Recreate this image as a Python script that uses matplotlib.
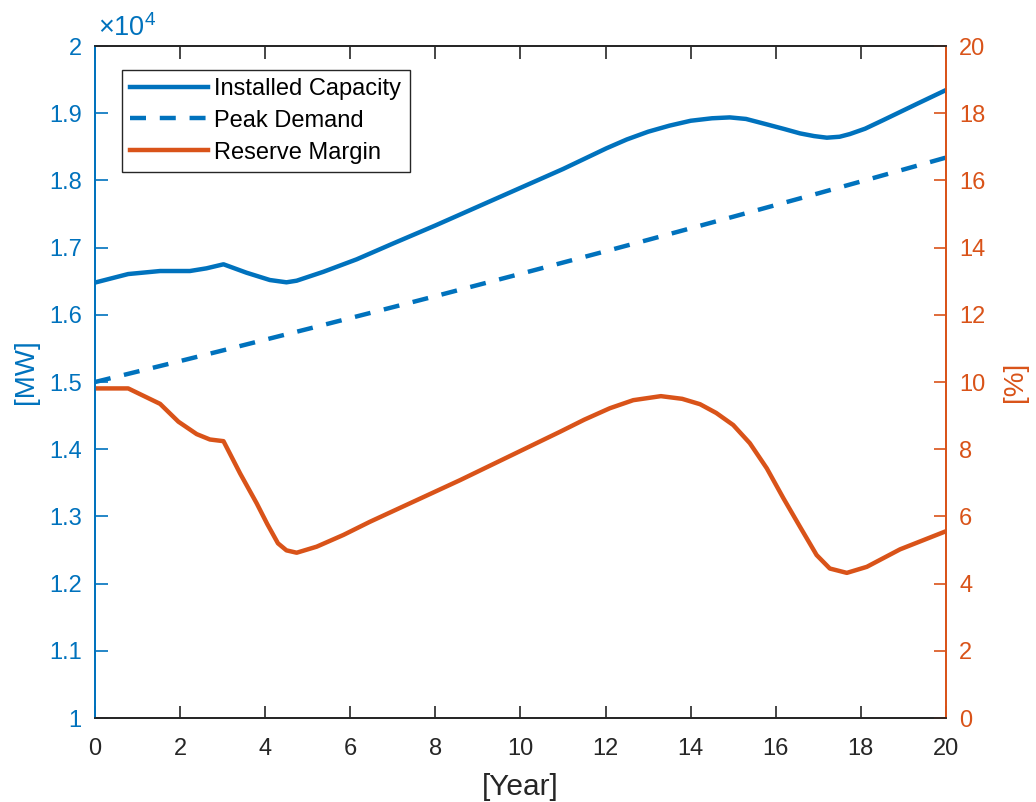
import numpy as np
import matplotlib.pyplot as plt
from matplotlib.ticker import FuncFormatter, MultipleLocator

plt.rcParams['font.family'] = ['Liberation Sans', 'DejaVu Sans']
plt.rcParams['mathtext.fontset'] = 'custom'
plt.rcParams['mathtext.rm'] = 'Liberation Sans'

BLUE = '#0072BD'
ORANGE = '#D95319'
DARK = '#262626'

# installed capacity [MW]
cap_year = [0.0, 0.78, 1.53, 2.23, 2.62, 3.02, 3.56, 4.11, 4.50, 4.74, 5.37, 6.15,
            7.0, 8.0, 9.0, 10.0, 11.0, 12.02, 12.5, 13.0, 13.5, 14.0, 14.5,
            14.92, 15.3, 15.79, 16.2, 16.57, 16.9, 17.2, 17.5, 17.74, 18.1,
            18.53, 19.31, 20.0]
cap_mw = [16480, 16607, 16652, 16652, 16692, 16752, 16627, 16518, 16484, 16508,
          16641, 16826, 17060, 17330, 17610, 17890, 18170, 18478, 18610, 18725,
          18815, 18888, 18925, 18938, 18915, 18834, 18765, 18700, 18660, 18636,
          18650, 18690, 18770, 18899, 19137, 19345]

# peak demand [MW]
dem_year = list(range(0, 21))
dem_mw = [15000, 15156, 15312, 15470, 15630, 15790, 15952, 16114, 16278, 16444,
          16610, 16778, 16946, 17116, 17288, 17460, 17634, 17808, 17984, 18162,
          18340]

# reserve margin [%]
res_year = [0.0, 0.78, 1.53, 1.96, 2.39, 2.70, 3.02, 3.41, 3.80, 4.05, 4.3, 4.5,
            4.74, 5.21, 5.84, 6.46, 8.58, 10.93, 11.5, 12.1, 12.65, 13.3, 13.8,
            14.22, 14.6, 15.0, 15.39, 15.79, 16.18, 16.57, 16.96, 17.27, 17.67,
            18.14, 18.92, 20.0]
res_pct = [9.81, 9.81, 9.35, 8.82, 8.45, 8.29, 8.24, 7.28, 6.39, 5.77, 5.20, 4.99,
           4.92, 5.10, 5.45, 5.84, 7.08, 8.52, 8.88, 9.22, 9.46, 9.58, 9.50,
           9.34, 9.08, 8.72, 8.18, 7.43, 6.54, 5.69, 4.85, 4.45, 4.32, 4.50, 5.02,
           5.56]

fig = plt.figure(figsize=(10.36, 8.02), dpi=100)
ax = fig.add_axes([0.0917, 0.1047, 0.8214, 0.8379])
ax2 = ax.twinx()

lw = 3.2
l1, = ax.plot(cap_year, cap_mw, color=BLUE, lw=lw, solid_joinstyle='round',
              label='Installed Capacity')
l2, = ax.plot(dem_year, dem_mw, color=BLUE, lw=lw, ls=(0, (3.6, 3.1)),
              label='Peak Demand')
l3, = ax2.plot(res_year, res_pct, color=ORANGE, lw=lw, solid_joinstyle='round',
               label='Reserve Margin')

ax.set_xlim(0, 20)
ax.set_ylim(10000, 20000)
ax2.set_ylim(0, 20)
ax.xaxis.set_major_locator(MultipleLocator(2))
ax.yaxis.set_major_locator(MultipleLocator(1000))
ax2.yaxis.set_major_locator(MultipleLocator(2))
ax.yaxis.set_major_formatter(FuncFormatter(lambda v, p: '%g' % (v / 1e4)))

fs = 17
ax.tick_params(axis='x', direction='in', top=True, length=9, width=1.2,
               colors=DARK, labelsize=fs, pad=14.5)
ax.tick_params(axis='y', direction='in', length=9, width=1.2, colors=BLUE,
               labelsize=fs, pad=9.5)
ax2.tick_params(axis='y', direction='in', length=9, width=1.2, colors=ORANGE,
                labelsize=fs, pad=9.5)
ax2.tick_params(axis='x', top=False, bottom=False)

for a in (ax, ax2):
    for s in a.spines.values():
        s.set_linewidth(1.3)
    a.spines['top'].set_color(DARK)
    a.spines['bottom'].set_color(DARK)
    a.spines['left'].set_color(BLUE)
    a.spines['right'].set_color(ORANGE)

ax.set_xlabel('[Year]', fontsize=21.5, color=DARK, labelpad=9)
ax.set_ylabel('[MW]', fontsize=20, color=BLUE, labelpad=7)
ax.yaxis.label.set_y(0.516)
ax2.set_ylabel('[%]', fontsize=20, color=ORANGE, labelpad=12)

ax.text(0.004, 1.006, r'$\times\mathregular{10^4}$', transform=ax.transAxes,
        color=BLUE, fontsize=19.5, ha='left', va='bottom')

leg = ax2.legend(handles=[l1, l2, l3], loc='upper left', fontsize=17,
                 bbox_to_anchor=(0.032, 0.965), borderaxespad=0, fancybox=False,
                 framealpha=1, edgecolor=DARK, handlelength=3.3,
                 handletextpad=0.25, borderpad=0.35, labelspacing=0.42)
leg.get_frame().set_linewidth(1.0)

fig.savefig('out.png', dpi=100)
